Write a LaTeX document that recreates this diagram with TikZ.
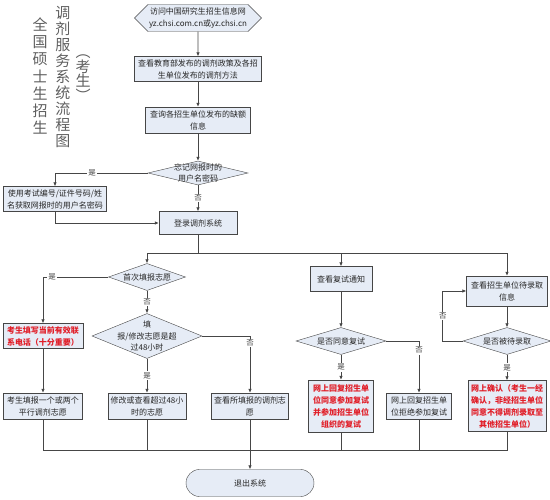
\documentclass[tikz,border=0pt]{standalone}
\usepackage{fontspec}
\setmainfont{Noto Sans CJK SC}
\usetikzlibrary{arrows.meta,shapes.geometric,shapes.symbols,shapes.misc}
\definecolor{boxfill}{RGB}{230,236,246}
\definecolor{boxline}{RGB}{70,70,70}
\definecolor{titlegray}{RGB}{95,95,95}
\definecolor{warnred}{RGB}{225,30,40}
\begin{document}
\begin{tikzpicture}[x=1pt, y=-1pt,
  box/.style={draw=boxline, fill=boxfill, align=center, inner sep=1pt, text=black!85, font=\fontsize{8}{12}\selectfont},
  redbox/.style={box, text=warnred, font=\fontsize{8}{12}\selectfont\bfseries},
  decision/.style={draw=boxline, fill=boxfill, diamond, inner sep=0pt},
  dtext/.style={align=center, inner sep=0pt, text=black!85, font=\fontsize{8}{11.5}\selectfont},
  lbl/.style={fill=white, inner sep=1pt, text=black!75, font=\fontsize{7.5}{9}\selectfont},
  coltitle/.style={align=center, inner sep=0pt, text=titlegray},
  arrow/.style={-{Latex[length=4pt,width=3.6pt]}, draw=boxline, thick},
  line/.style={draw=boxline, thick}
]
\useasboundingbox (0,0) rectangle (550,500);
\node[coltitle, font=\fontsize{15}{17.2}\selectfont] (titlea) at (40,76) {全\\国\\硕\\士\\生\\招\\生};
\node[coltitle, font=\fontsize{15}{16.1}\selectfont] (titleb) at (63,77) {调\\剂\\服\\务\\系\\统\\流\\程\\图};
\node[coltitle, font=\fontsize{15}{13}\selectfont] (titlec) at (83,78) {︵\\考\\生\\︶};
\node[box, signal, signal to=west and east, minimum width=127, minimum height=27] (visit) at (198,18) {访问中国研究生招生信息网\\yz.chsi.com.cn或yz.chsi.cn};
\node[box, minimum width=127, minimum height=25] (policy) at (198,69) {查看教育部发布的调剂政策及各招\\生单位发布的调剂方法};
\node[box, minimum width=105, minimum height=26] (vacancy) at (198,120) {查询各招生单位发布的缺额\\信息};
\node[decision, minimum width=100, minimum height=24, label={[dtext]center:忘记网报时的\\用户名密码}] (forget) at (198,173) {};
\node[box, minimum width=78, minimum height=23] (login) at (198,223) {登录调剂系统};
\node[box, minimum width=103, minimum height=25] (getpwd) at (55,199) {使用考试编号/证件号码/姓\\名获取网报时的用户名密码};
\node[decision, minimum width=77, minimum height=27, label={[dtext]center:首次填报志愿}] (first) at (147,277) {};
\node[redbox, minimum width=80, minimum height=25] (phone) at (43,336) {考生填写当前有效联\\系电话（十分重要）};
\node[decision, minimum width=110, minimum height=45, label={[dtext]center:填\\报/修改志愿是超\\过48小时}] (q48) at (147,336) {};
\node[box, minimum width=79, minimum height=26] (parallel) at (43,406) {考生填报一个或两个\\平行调剂志愿};
\node[box, minimum width=78, minimum height=26] (modify) at (147,406) {修改或查看超过48小\\时的志愿};
\node[box, minimum width=77, minimum height=26] (viewvol) at (250,406) {查看所填报的调剂志\\愿};
\node[box, minimum width=62, minimum height=25] (retest) at (341,279) {查看复试通知};
\node[decision, minimum width=90, minimum height=27, label={[dtext]center:是否同意复试}] (agree) at (341,341) {};
\node[redbox, minimum width=65, minimum height=52] (accept) at (341,406) {网上回复招生单\\位同意参加复试\\并参加招生单位\\组织的复试};
\node[box, minimum width=65, minimum height=26] (reject) at (419,406) {网上回复招生单\\位拒绝参加复试};
\node[box, minimum width=81, minimum height=30] (admitinfo) at (507,291) {查看招生单位待录取\\信息};
\node[decision, minimum width=88, minimum height=27, label={[dtext]center:是否被待录取}] (admitted) at (507,341) {};
\node[redbox, minimum width=78, minimum height=51] (confirm) at (507,406) {网上确认（考生一经\\确认，非经招生单位\\同意不得调剂录取至\\其他招生单位）};
\node[box, rounded rectangle, minimum width=130, minimum height=27] (exit) at (250,483) {退出系统};
\coordinate (split) at (198,253);
\coordinate (merge) at (250,450);
\draw[arrow] (visit) -- (policy);
\draw[arrow] (policy) -- (vacancy);
\draw[arrow] (vacancy) -- (forget);
\draw[arrow] (forget) -- node[lbl] (nopwd) {否} (login);
\draw[arrow] (forget.west) -| node[lbl, pos=0.3] (yespwd) {是} (getpwd);
\draw[arrow] (getpwd.south) |- (login.west);
\draw[line] (login) -- (split);
\draw[arrow] (split) -| (first);
\draw[arrow] (split) -| (retest);
\draw[arrow] (split) -| (admitinfo);
\draw[arrow] (first.west) -| node[lbl, pos=0.43] (yesfirst) {是} (phone);
\draw[arrow] (first) -- node[lbl] (nofirst) {否} (q48);
\draw[arrow] (phone) -- (parallel);
\draw[arrow] (q48) -- node[lbl] (yes48) {是} (modify);
\draw[arrow] (q48.east) -| node[lbl, pos=0.56] (no48) {否} (viewvol);
\draw[arrow] (retest) -- (agree);
\draw[arrow] (agree) -- node[lbl] (yesagree) {是} (accept);
\draw[arrow] (agree.east) -| node[lbl, pos=0.59] (noagree) {否} (reject);
\draw[arrow] (admitinfo) -- (admitted);
\draw[arrow] (admitted.west) -- ++(-20,0) |- node[lbl, pos=0.25] (noadmit) {否} (admitinfo.west);
\draw[arrow] (admitted) -- node[lbl] (yesadmit) {是} (confirm);
\draw[line] (parallel) |- (merge);
\draw[line] (modify) |- (merge);
\draw[line] (accept) |- (merge);
\draw[line] (reject) |- (merge);
\draw[line] (confirm) |- (merge);
\draw[arrow] (viewvol) -- (exit);
\end{tikzpicture}
\end{document}
